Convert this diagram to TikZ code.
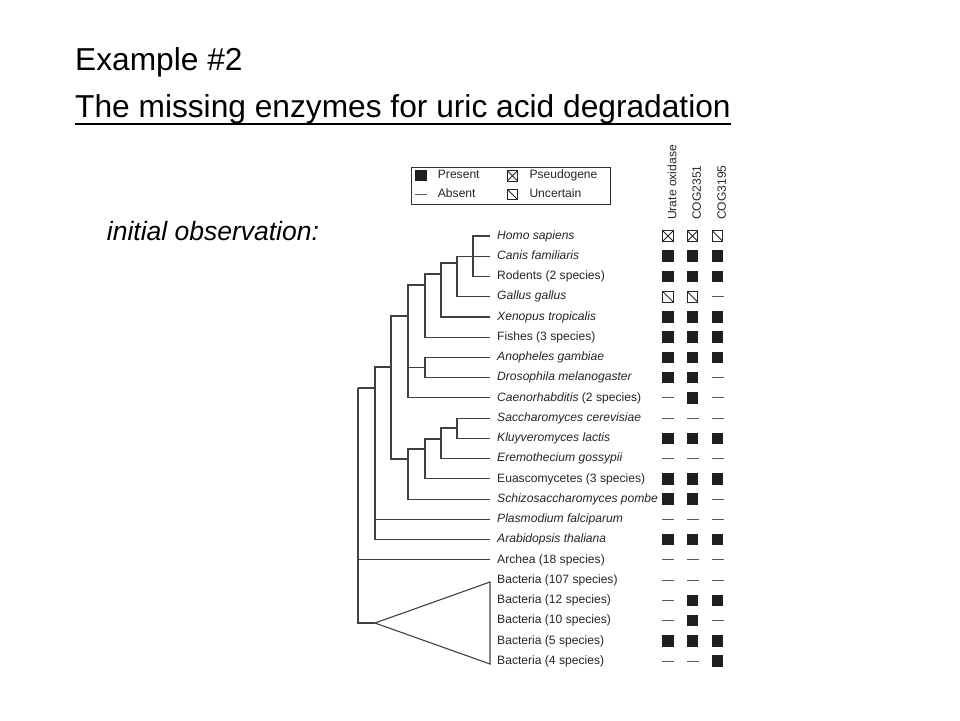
\documentclass[tikz,border=0pt]{standalone}
\usepackage{fontspec}
\setmainfont{Liberation Sans}
\tikzset{
  leaf/.style={anchor=west, inner xsep=7pt, inner ysep=0pt, text height=8.8pt, text depth=2.4pt,
    font=\fontsize{12.1}{14}\selectfont, text=black!85},
  hdr/.style={anchor=west, rotate=90, inner sep=0pt, text height=8.8pt, text depth=0pt,
    font=\fontsize{12.1}{14}\selectfont, text=black!85},
  lgd/.style={anchor=west, inner sep=0pt, text height=8.8pt, text depth=2.4pt,
    font=\fontsize{12.1}{14}\selectfont, text=black!85},
  branch/.style={draw=black!75, line width=1.1pt},
  pres/.style={fill=black!88, minimum size=11.5pt, inner sep=0pt},
  abs/.style={fill=black!65, minimum width=12pt, minimum height=1.1pt, inner sep=0pt},
  pseu/.style={draw=black!85, line width=0.9pt, minimum size=10.5pt, inner sep=0pt,
    path picture={\draw[black!85, line width=0.9pt]
      (path picture bounding box.north west) -- (path picture bounding box.south east)
      (path picture bounding box.south west) -- (path picture bounding box.north east);}},
  unc/.style={draw=black!85, line width=0.9pt, minimum size=10.5pt, inner sep=0pt,
    path picture={\draw[black!85, line width=0.9pt]
      (path picture bounding box.north west) -- (path picture bounding box.south east);}},
}
\begin{document}
\begin{tikzpicture}[x=1pt, y=-1pt]
  \useasboundingbox[fill=white] (0,0) rectangle (960,720);
  % titles
  \node[anchor=base west, inner sep=0pt, font=\fontsize{31.7}{38}\selectfont] (ttl) at (75,70.7) {Example \#2};
  \node[anchor=base west, inner sep=0pt, font=\fontsize{31.7}{38}\selectfont] (sub) at (75,117.3)
    {The missing enzymes for uric acid degradation};
  \draw[line width=1.8pt] ([yshift=-6.5pt]sub.base west) -- ([yshift=-6.5pt]sub.base east);
  \node[anchor=base west, inner sep=0pt, font=\fontsize{26.5}{32}\selectfont\itshape] (obs) at (106.7,240)
    {initial observation:};
  % legend
  \node[draw=black!80, line width=1pt, minimum width=199pt, minimum height=37pt, anchor=north west]
    (lg) at (411,166.7) {};
  \node[pres] (lp) at (421,175.7) {};
  \node[abs] (la) at (421,194.5) {};
  \node[pseu] (lx) at (512.5,175.7) {};
  \node[unc] (lu) at (512.5,194.5) {};
  \node[lgd] (lpt) at (437.7,175.7) {Present};
  \node[lgd] (lat) at (437.7,194.5) {Absent};
  \node[lgd] (lxt) at (529.3,175.7) {Pseudogene};
  \node[lgd] (lut) at (529.3,194.5) {Uncertain};
  % column heads
  \node[hdr] (uo) at (672,220) {Urate oxidase};
  \node[hdr] (c51) at (696.5,220) {COG2351};
  \node[hdr] (c95) at (721.5,220) {COG3195};
  % leaves
  \node[leaf] (hs) at (490,236) {\textit{Homo sapiens}};
  \node[leaf] (cf) at (490,256.2) {\textit{Canis familiaris}};
  \node[leaf] (rod) at (490,276.5) {Rodents (2 species)};
  \node[leaf] (gg) at (490,296.7) {\textit{Gallus gallus}};
  \node[leaf] (xt) at (490,317) {\textit{Xenopus tropicalis}};
  \node[leaf] (fis) at (490,337.2) {Fishes (3 species)};
  \node[leaf] (ag) at (490,357.4) {\textit{Anopheles gambiae}};
  \node[leaf] (dm) at (490,377.7) {\textit{Drosophila melanogaster}};
  \node[leaf] (ce) at (490,397.9) {\textit{Caenorhabditis} (2 species)};
  \node[leaf] (sc) at (490,418.2) {\textit{Saccharomyces cerevisiae}};
  \node[leaf] (kl) at (490,438.4) {\textit{Kluyveromyces lactis}};
  \node[leaf] (eg) at (490,458.6) {\textit{Eremothecium gossypii}};
  \node[leaf] (eua) at (490,478.9) {Euascomycetes (3 species)};
  \node[leaf] (sp) at (490,499.1) {\textit{Schizosaccharomyces pombe}};
  \node[leaf] (pf) at (490,519.4) {\textit{Plasmodium falciparum}};
  \node[leaf] (at) at (490,539.6) {\textit{Arabidopsis thaliana}};
  \node[leaf] (arc) at (490,559.8) {Archea (18 species)};
  \node[leaf] (b107) at (490,580.1) {Bacteria (107 species)};
  \node[leaf] (b12) at (490,600.3) {Bacteria (12 species)};
  \node[leaf] (b10) at (490,620.6) {Bacteria (10 species)};
  \node[leaf] (b5) at (490,640.8) {Bacteria (5 species)};
  \node[leaf] (b4) at (490,661) {Bacteria (4 species)};
  % inner nodes of the tree
  \coordinate (hcr) at (473,256.2);
  \coordinate (hg) at (457,263);
  \coordinate (hx) at (441,274);
  \coordinate (hf) at (425,285);
  \coordinate (ins) at (425,367.5);
  \coordinate (met) at (408,316);
  \coordinate (sk) at (457,428);
  \coordinate (ske) at (441,439);
  \coordinate (skee) at (425,449);
  \coordinate (asc) at (408,459);
  \coordinate (opis) at (391,367);
  \coordinate (euk) at (375,388);
  \coordinate (root) at (358,388);
  \coordinate (bact) at (375,623);
  \coordinate (btop) at (490,582);
  \coordinate (bbot) at (490,664);
  \begin{scope}[branch]
    \draw (hcr) |- (hs.west);
    \draw (hcr) |- (cf.west);
    \draw (hcr) |- (rod.west);
    \draw (hg) |- (hcr);
    \draw (hg) |- (gg.west);
    \draw (hx) |- (hg);
    \draw (hx) |- (xt.west);
    \draw (hf) |- (hx);
    \draw (hf) |- (fis.west);
    \draw (ins) |- (ag.west);
    \draw (ins) |- (dm.west);
    \draw (met) |- (hf);
    \draw (met) |- (ins);
    \draw (met) |- (ce.west);
    \draw (sk) |- (sc.west);
    \draw (sk) |- (kl.west);
    \draw (ske) |- (sk);
    \draw (ske) |- (eg.west);
    \draw (skee) |- (ske);
    \draw (skee) |- (eua.west);
    \draw (asc) |- (skee);
    \draw (asc) |- (sp.west);
    \draw (opis) |- (met);
    \draw (opis) |- (asc);
    \draw (euk) |- (opis);
    \draw (euk) |- (pf.west);
    \draw (euk) |- (at.west);
    \draw (root) |- (euk);
    \draw (root) |- (arc.west);
    \draw (root) |- (bact);
    \draw[line join=miter] (bact) -- (btop) -- (bbot) -- cycle;
  \end{scope}
  % presence of the three genes
  \foreach \r/\a/\b/\c in {0/pseu/pseu/unc, 1/pres/pres/pres, 2/pres/pres/pres, 3/unc/unc/abs,
      4/pres/pres/pres, 5/pres/pres/pres, 6/pres/pres/pres, 7/pres/pres/abs, 8/abs/pres/abs,
      9/abs/abs/abs, 10/pres/pres/pres, 11/abs/abs/abs, 12/pres/pres/pres, 13/pres/pres/abs,
      14/abs/abs/abs, 15/pres/pres/pres, 16/abs/abs/abs, 17/abs/abs/abs, 18/abs/pres/pres,
      19/abs/pres/abs, 20/pres/pres/pres, 21/abs/abs/pres}{
    \node[\a] (ua\r) at (668,{236+20.24*\r}) {};
    \node[\b] (ub\r) at (692.5,{236+20.24*\r}) {};
    \node[\c] (uc\r) at (717.5,{236+20.24*\r}) {};
  }
\end{tikzpicture}
\end{document}
